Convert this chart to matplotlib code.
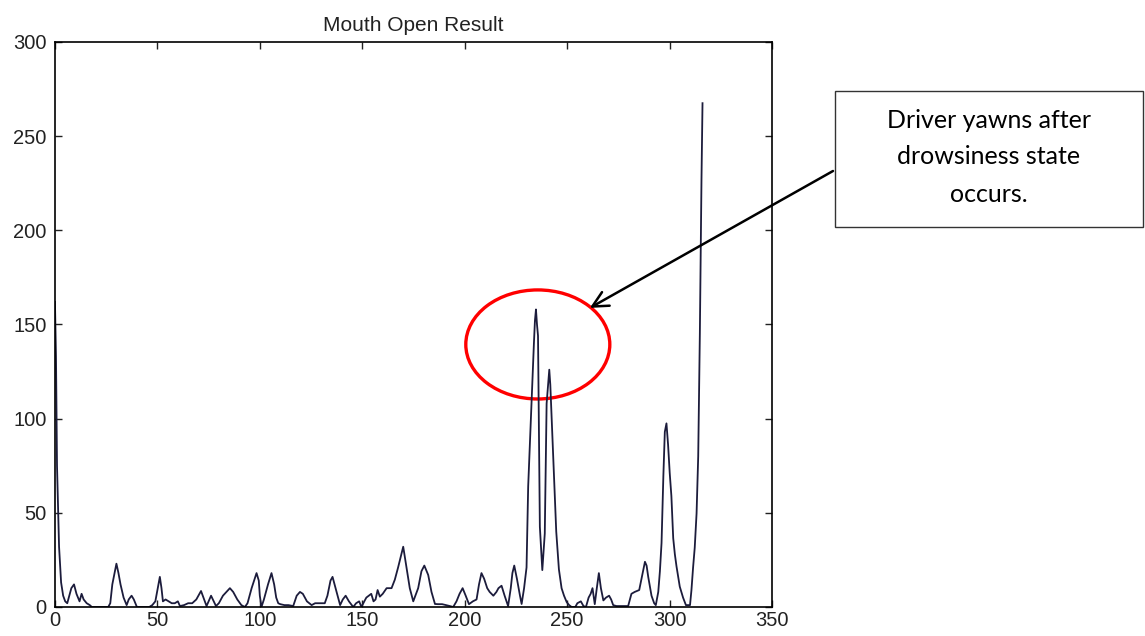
import matplotlib
matplotlib.use('Agg')
import matplotlib.pyplot as plt
from matplotlib.patches import Ellipse

# frame index / mouth-open value
frame = [0, 0.5, 1, 2, 3, 4, 5, 6, 7, 8, 9.3, 10.5, 12, 13, 14, 15.5, 17, 18, 26, 27, 28, 30, 31, 32,
         33.5, 35, 36, 37.4, 38.5, 40, 46, 47.5, 49, 50, 51.2, 52, 52.7, 54, 55.5, 57, 58.5, 60, 61,
         63, 65, 67, 69, 71.3, 72.5, 74, 75, 76.2, 77.5, 78.6, 80, 82, 85.4, 87, 89, 91, 92.7, 94, 96,
         98.4, 99.5, 100, 100.8, 102, 104, 105.7, 107, 108, 109, 110, 112, 114, 116.3, 118, 119.6, 121,
         123, 125.3, 127, 129, 131.7, 133, 134.5, 135.5, 137, 139.2, 140.5, 141.9, 143.5, 145.6, 147,
         148.5, 149.6, 151, 152, 154.4, 155.5, 156.5, 157.5, 158.6, 160, 161.9, 164.3, 165.9, 167.5,
         169.1, 170, 171.6, 173.2, 174.9, 177.3, 178.9, 180.3, 182.2, 183.8, 185.5, 187, 189, 191,
         192.8, 194.4, 196, 197.5, 199, 200.5, 202.1, 204, 205.8, 207, 208.2, 209.5, 211, 212.2, 214,
         215.5, 216.5, 218, 219.5, 221.2, 222.5, 223.3, 224.2, 225.5, 227, 227.8, 229, 230.2, 231,
         232.6, 233.8, 234.3, 234.8, 235.3, 235.8, 236.7, 237.9, 239.1, 240, 240.7, 241.3, 241.8,
         242.3, 243.4, 244.7, 246, 247.3, 248.5, 249.8, 251, 252.2, 254, 255, 256.7, 258, 259.2,
         260.5, 261.5, 262.4, 263.5, 264.5, 265.5, 266.5, 267.7, 269, 270.5, 271.5, 272.5, 274.1,
         279.8, 281.4, 283, 285.2, 286.5, 288, 288.8, 289.6, 291.2, 292.5, 293.3, 294.5, 295.3, 296.1,
         297, 297.7, 298.5, 299.3, 300.1, 300.9, 301.8, 302.6, 303.4, 305, 306.6, 308, 310, 310.7,
         311.5, 312.3, 313.2, 314, 314.8, 315.6, 316.1]
mouth = [162, 133, 75, 32, 13, 6, 3, 2, 6, 10, 12, 7, 3, 7, 4, 2, 1, 0, 0, 2, 12, 23, 18, 12,
         5, 1, 4, 6, 4, 0, 0, 1, 3, 9, 16, 10, 3, 4, 3, 2, 2, 3, 0.5,
         1, 2, 2, 4, 8.5, 5, 0.5, 3, 6, 3, 0.5, 2, 6, 10, 8, 4, 1, 0, 2, 10,
         18, 14, 6, 0, 4, 12, 18, 12, 5, 2, 1.5, 1, 1, 0.5, 6, 8, 7,
         3, 1, 2, 2, 2, 6, 14, 16, 10, 1, 4, 6, 3, 0, 2,
         3, 0, 3, 5, 7, 3, 4, 9, 5.5, 7, 10, 10, 14.5, 21,
         28, 32, 21, 10, 3, 10, 19, 22, 17, 8, 1.6, 1.5, 1.5, 1,
         0.5, 0, 3, 7, 10, 6, 1.5, 3, 4, 12, 18, 15, 10, 8, 6,
         8, 10, 11.3, 6, 0.5, 10, 18, 22, 15, 6, 1.6, 10, 21, 64,
         108, 140, 152, 158, 150, 144, 42.6, 19.6, 39, 108, 118, 126, 118,
         104.6, 76, 40, 20, 10, 6, 2.6, 1, 0, 0, 2, 3, 0.5, 0,
         5, 7, 10, 1.5, 10, 18, 10, 3.5, 5, 6, 4, 1, 0.5,
         0.5, 7, 8, 9, 16, 24, 22, 16, 6, 2, 1, 8, 19, 34,
         70, 93, 97.5, 86, 71, 59, 36.5, 28, 21.6, 10.8, 5, 1, 1, 9,
         21, 31.5, 49.7, 80, 145, 227, 267.5]

x_ticks = [0, 50, 100, 150, 200, 250, 300, 350]
y_ticks = [0, 50, 100, 150, 200, 250, 300]

plt.rcParams['font.family'] = ['Liberation Sans', 'DejaVu Sans']

fig = plt.figure(figsize=(11.45, 6.36), dpi=100)
ax = fig.add_axes([0.048, 0.0456, 0.6262, 0.8884])

ax.plot(frame, mouth, color='#1c1c3c', linewidth=1.3)

ax.set_xlim(0, 350)
ax.set_ylim(0, 300)
ax.set_xticks(x_ticks)
ax.set_yticks(y_ticks)
ax.tick_params(direction='in', length=5, width=1, top=True, right=True,
               labelsize=14.5, colors='#222222')
ax.tick_params(axis='y', pad=6)
ax.tick_params(axis='x', pad=3)
for s in ax.spines.values():
    s.set_linewidth(1.2)
ax.set_title('Mouth Open Result', fontsize=15, pad=8, color='#222222')

# red circle round the yawn peaks
circle = Ellipse((235.7, 139.4), 70.3, 57.9, fill=False, edgecolor='red',
                 linewidth=2.4, clip_on=False)
ax.add_patch(circle)

# note box with arrow
ax.annotate('', xy=(261.1, 158.8), xytext=(833 / 1145, 1 - 171 / 636),
            textcoords='figure fraction',
            arrowprops=dict(arrowstyle='->', color='black', lw=1.8,
                            mutation_scale=28, shrinkA=0, shrinkB=0))
box = plt.Rectangle((835 / 1145, 1 - 227 / 636), 308 / 1145, 136 / 636,
                    transform=fig.transFigure, fill=False, edgecolor='#333333',
                    linewidth=1.0)
fig.add_artist(box)
note_lines = ['Driver yawns after', 'drowsiness state', 'occurs.']
for i, line in enumerate(note_lines):
    fig.text(989 / 1145, 1 - (120 + 37 * i) / 636, line, ha='center', va='center',
             fontsize=18, family=['Lato', 'DejaVu Sans'], color='black')

fig.savefig('out.png', dpi=100)
